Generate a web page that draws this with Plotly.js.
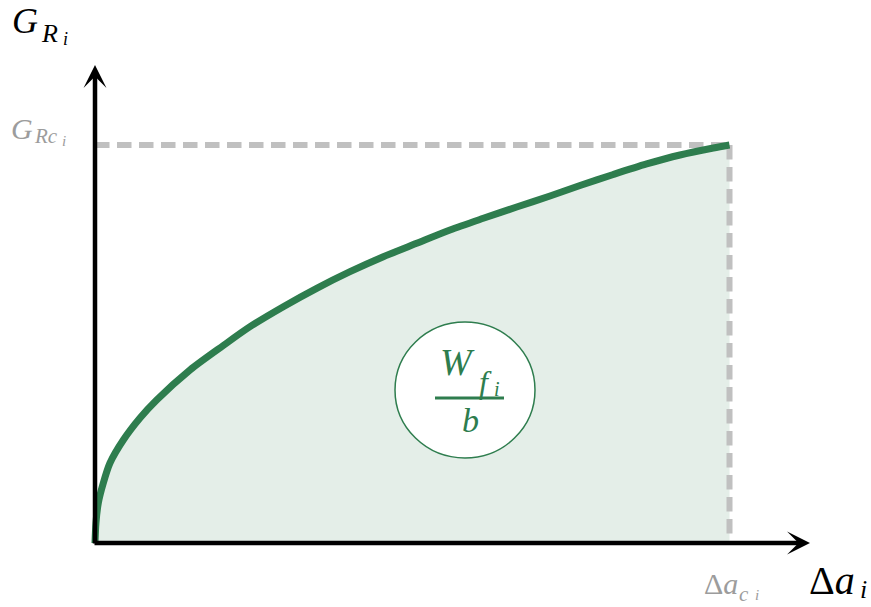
<!DOCTYPE html>
<html><head><meta charset="utf-8">
<script src="https://cdn.plot.ly/plotly-3.0.1.min.js"></script>
<style>html,body{margin:0;padding:0;background:#fff}</style>
</head><body><div id="chart" style="width:871px;height:607px"></div>
<script>
// Curve (x = Δa_i / Δa_ci, y = G_Ri / G_Rci)
const crackLength = [0, 0.0015, 0.0052, 0.0131, 0.0236, 0.0446, 0.0709, 0.0972, 0.1497, 0.2022, 0.2443, 0.2968, 0.3494, 0.4019, 0.4544, 0.5070, 0.5595, 0.6120, 0.6646, 0.7171, 0.7644, 0.8169, 0.8695, 0.9220, 0.9745, 1.0];
const resistance  = [0, 0.05, 0.1005, 0.1508, 0.2010, 0.2588, 0.3141, 0.3593, 0.4347, 0.4962, 0.5435, 0.5937, 0.6399, 0.6817, 0.7193, 0.7530, 0.7864, 0.8158, 0.8442, 0.8719, 0.8982, 0.9259, 0.9523, 0.9749, 0.9925, 1.0];
const critX = 1.0, critY = 1.0;

const GREEN = '#2e7d4e', FILL = '#e4eee8', GRAY = '#c0c0c0', GRAYTXT = '#9c9c9c';
// pixel frame
const PX0 = 95, PX1 = 729.5, PY0 = 543, PY1 = 145, W = 871, H = 607;
const sx = PX1 - PX0, sy = PY0 - PY1;
const X = p => (p - PX0) / sx;
const Y = p => (PY0 - p) / sy;

const traces = [
  {x: crackLength, y: resistance, mode: 'lines', fill: 'tozeroy', fillcolor: FILL,
   line: {width: 0, shape: 'spline', smoothing: 0.8, color: FILL}, hoverinfo: 'skip'},
  {x: [0, critX], y: [critY, critY], mode: 'lines', line: {color: GRAY, width: 6, dash: '14.5px,7.5px'}, hoverinfo: 'skip'},
  {x: [critX, critX], y: [critY, 0], mode: 'lines', line: {color: GRAY, width: 6, dash: '14.5px,7.5px'}, hoverinfo: 'skip'},
  {x: crackLength, y: resistance, mode: 'lines', line: {color: GREEN, width: 7, shape: 'spline', smoothing: 0.8}, hoverinfo: 'skip'}
];

const serif = 'Liberation Serif';
function lab(text, px, py, size, color) {
  return {x: X(px), y: Y(py), xref: 'x', yref: 'y', text: text, showarrow: false,
          xanchor: 'center', yanchor: 'middle', font: {family: serif, size: size, color: color}};
}
function arrow(x0, y0, x1, y1) {
  return {x: x1, y: y1, ax: x0, ay: y0, xref: 'x', yref: 'y', axref: 'x', ayref: 'y', text: '',
          showarrow: true, arrowhead: 3, arrowsize: 0.85, arrowwidth: 4.5, arrowcolor: '#000', standoff: 0};
}
const annotations = [
  arrow(X(93), 0, X(810), 0),
  arrow(0, Y(545), 0, Y(65)),
  // y-axis title G_{R_i}
  lab('<i>G</i>', 25, 21, 36, '#000'),
  lab('<i>R</i>', 49, 33, 26, '#000'),
  lab('<i>i</i>', 65, 39, 18, '#000'),
  // G_{Rc_i}
  lab('<i>G</i>', 22, 128, 30, GRAYTXT),
  lab('<i>Rc</i>', 46, 136, 21, GRAYTXT),
  lab('<i>i</i>', 64, 141, 15, GRAYTXT),
  // Δa_{c_i}
  lab('Δ<i>a</i>', 721, 583, 30, GRAYTXT),
  lab('<i>c</i>', 744, 594, 21, GRAYTXT),
  lab('<i>i</i>', 757, 595, 15, GRAYTXT),
  // Δa_i
  lab('Δ<i>a</i>', 832, 580, 40, '#000'),
  lab('<i>i</i>', 863, 589, 26, '#000'),
  // fraction W_{f_i}/b
  lab('<i>W</i>', 457, 362, 38, GREEN),
  lab('<i>f</i>', 485, 382, 32, GREEN),
  lab('<i>i</i>', 497, 389, 20, GREEN),
  lab('<i>b</i>', 470, 420, 34, GREEN)
];

const shapes = [
  {type: 'circle', xref: 'x', yref: 'y', x0: X(395), x1: X(535), y0: Y(458), y1: Y(322),
   fillcolor: '#ffffff', line: {color: GREEN, width: 1.5}, layer: 'above'},
  {type: 'line', xref: 'x', yref: 'y', x0: X(435), x1: X(504), y0: Y(398), y1: Y(398),
   line: {color: GREEN, width: 3}, layer: 'above'}
];

const layout = {
  width: W, height: H, autosize: false, showlegend: false,
  margin: {l: 0, r: 0, t: 0, b: 0, pad: 0},
  paper_bgcolor: '#fff', plot_bgcolor: '#fff',
  xaxis: {range: [X(0), X(W)], visible: false, fixedrange: true},
  yaxis: {range: [Y(H), Y(0)], visible: false, fixedrange: true},
  annotations: annotations, shapes: shapes
};
Plotly.newPlot('chart', traces, layout, {displayModeBar: false, staticPlot: true});
</script></body></html>
